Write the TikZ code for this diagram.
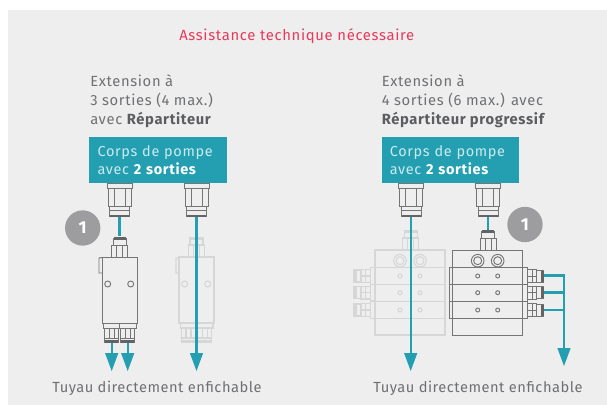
\documentclass[tikz,border=0pt]{standalone}
\usepackage{fontspec}
\setmainfont[LetterSpace=4.5]{Fira Sans}
\usetikzlibrary{arrows.meta}
\definecolor{panel}{HTML}{EEEEEE}
\definecolor{teal1}{HTML}{249FB2}
\definecolor{lighttxt}{HTML}{C9EBEF}
\definecolor{txt}{HTML}{6F7073}
\definecolor{txtb}{HTML}{5C5D60}
\definecolor{red1}{HTML}{E8395B}
\definecolor{badgec}{HTML}{9D9DA0}
\definecolor{partc}{HTML}{757577}
\definecolor{ghostc}{HTML}{D6D6D6}
\tikzset{
  x=0.75pt,y=-0.75pt,
  label text/.style={text=txt,font=\fontsize{11.05pt}{14.25pt}\selectfont,anchor=base west,inner sep=0pt,align=left},
  foot text/.style={text=txt,font=\fontsize{11pt}{14.25pt}\selectfont,anchor=base west,inner sep=0pt},
  title text/.style={text=red1,font=\fontsize{11.12pt}{14pt}\selectfont,anchor=base west,inner sep=0pt},
  pump box/.style={fill=teal1,text=lighttxt,font=\fontsize{10.85pt}{13.8pt}\selectfont,anchor=north west,minimum width=103pt,minimum height=34.5pt,text width=90.5pt,inner ysep=0pt,inner xsep=6.25pt,align=left},
  badge/.style={circle,fill=badgec,text=white,font=\bfseries\fontsize{13pt}{14pt}\selectfont,minimum size=26.5pt,inner sep=0pt},
  pipe/.style={draw=teal1,line width=1.6pt},
  pipe tip/.style={pipe,-{Triangle[length=13.5pt,width=10pt,line width=0pt]}},
  part/.style={draw=partc,line width=0.7pt,fill=none},
  ghost/.style={draw=ghostc,line width=0.8pt,fill=none},
  part solid/.style={fill=partc!85!black,draw=none},
  ghost solid/.style={fill=ghostc,draw=none},
}
% pump fitting hanging from a box bottom: #1 centre x
\newcommand{\pumpfit}[1]{%
  \begin{scope}[shift={(#1,0)}]
    \draw[part] (-12.5,183.5) rectangle (12.5,188);
    \draw[part] (-11.5,188) rectangle (11.5,206);
    \draw[part] (-5.5,188) -- (-5.5,206) (5.5,188) -- (5.5,206);
    \draw[part] (-10,206) rectangle (10,216);
    \draw[part] (-10,210) -- (10,210);
    \fill[part solid] (-9.5,214.5) rectangle (9.5,216.5);
  \end{scope}}
% top inlet: #1 centre x, #2 top y, #3 look
\newcommand{\inlet}[3]{%
  \begin{scope}[shift={(#1,#2)}]
    \draw[#3] (-8,8) rectangle (8,20);
    \draw[#3] (-6.5,1) rectangle (6.5,8);
    \draw[#3] (-3,8) -- (-3,20) (3,8) -- (3,20);
    \fill[#3 solid] (-6,0) rectangle (6,3);
  \end{scope}}
% splitter body: #1 x shift, #2 look
\newcommand{\splitter}[2]{%
  \begin{scope}[shift={(#1,0)}]
    \draw[#2] (102,257) rectangle (137,323);
    \draw[#2] (102,257.5) -- (99,258) -- (99,273) -- (102,273);
    \draw[#2] (107.7,284) circle (3) (130.7,284) circle (3);
    \foreach \c in {111.5,127.7}{
      \draw[#2] (\c-8.3,323) rectangle (\c+8.3,328);
      \draw[#2] (\c-7,328) rectangle (\c+7,342);
      \draw[#2] (\c-2.5,328) -- (\c-2.5,338) (\c+2.5,328) -- (\c+2.5,338) (\c-7,338) -- (\c+7,338);
      \fill[#2 solid] (\c-6.5,340) rectangle (\c+6.5,343);
    }
  \end{scope}}
% progressive block: #1 left x, #2 look
\newcommand{\blockbody}[2]{%
  \begin{scope}[shift={(#1,0)}]
    \draw[#2] (0,250) rectangle (70,335);
    \foreach \y in {267.7,284.3,301.7,318.3}{\draw[#2] (0,\y) -- (70,\y);}
    \foreach \c in {25,45}{
      \draw[#2] (\c,260.7) circle (6.3) (\c,260.7) circle (4);
      \foreach \y in {276,292.7,310}{\draw[#2] (\c,\y) circle (2);}
    }
  \end{scope}}
% side fitting: #1 x of block edge, #2 y centre, #3 direction, #4 look
\newcommand{\sidefit}[4]{%
  \begin{scope}[shift={(#1,#2)},xscale=#3]
    \draw[#4] (0,-8.3) rectangle (4.7,8.3);
    \draw[#4] (4.7,-6.3) rectangle (14,6.3);
    \draw[#4] (14,-6) rectangle (21,6);
    \draw[#4] (4.7,0) -- (14,0) (9.5,-6.3) -- (9.5,6.3);
    \fill[#4 solid] (18.5,-5.5) rectangle (21.5,5.5);
  \end{scope}}
\begin{document}
\begin{tikzpicture}
\useasboundingbox (0,0) rectangle (607,405);
\fill[white] (0,0) rectangle (607,405);
\fill[panel] (7.5,10) rectangle (607,405);

\node[title text] (title) at (179,40.5) {Assistance technique nécessaire};

\node[label text] (extL) at (90,124) {Extension à\\3 sorties (4 max.)\\avec \textcolor{txtb}{\bfseries Répartiteur}};
\node[label text] (extR) at (381.5,124) {Extension à\\4 sorties (6 max.) avec\\\textcolor{txtb}{\bfseries Répartiteur progressif}};

% ghost parts
\inlet{196.5}{237}{ghost}
\splitter{77}{ghost}
\inlet{410.7}{230}{ghost}
\blockbody{375}{ghost}
\foreach \y in {276,292.7,310}{\sidefit{375}{\y}{-1}{ghost}}

% real parts
\pumpfit{119.5}\pumpfit{196.5}\pumpfit{411}\pumpfit{488.3}
\inlet{119.5}{237}{part}
\splitter{0}{part}
\inlet{488}{230}{part}
\blockbody{452.7}{part}
\foreach \y in {276,292.7,310}{
  \sidefit{522.7}{\y}{1}{part}
  \draw[part] (452.7,\y-8.3) rectangle (449,\y+8.3);
}

\node[pump box] (boxL) at (89,137) {Corps de pompe\\avec \textcolor{white}{\bfseries 2 sorties}};
\node[pump box] (boxR) at (381.3,137) {Corps de pompe\\avec \textcolor{white}{\bfseries 2 sorties}};

\node[badge] (badgeL) at (82.7,228) {1};
\node[badge] (badgeR) at (525,224.5) {1};

% pipes
\coordinate (a1) at (119.5,217); \coordinate (a2) at (119.5,236);
\draw[pipe] (a1) -- (a2);
\coordinate (b1) at (111.7,343); \coordinate (b2) at (111.7,371);
\coordinate (c1) at (127.7,343); \coordinate (c2) at (127.7,371);
\draw[pipe tip] (b1) -- (b2);
\draw[pipe tip] (c1) -- (c2);
\coordinate (d1) at (196.5,217); \coordinate (d2) at (196.5,371);
\draw[pipe tip] (d1) -- (d2);
\coordinate (e1) at (410.7,217); \coordinate (e2) at (410.7,371);
\draw[pipe tip] (e1) -- (e2);
\coordinate (f1) at (487.7,217); \coordinate (f2) at (487.7,230);
\draw[pipe] (f1) -- (f2);
\coordinate (g1) at (544,275.5); \coordinate (g2) at (564,275.5); \coordinate (g3) at (564,366);
\coordinate (h1) at (544,292.5); \coordinate (h2) at (564,292.5);
\coordinate (i1) at (544,309.7); \coordinate (i2) at (564,309.7);
\draw[pipe tip] (g1) -- (g2) -- (g3);
\draw[pipe] (h1) -- (h2);
\draw[pipe] (i1) -- (i2);

\node[foot text] (lblL) at (52,392) {\addfontfeature{LetterSpace=3.5}Tuyau directement enfichable};
\node[foot text] (lblR) at (373,392) {\addfontfeature{LetterSpace=3.5}Tuyau directement enfichable};
\end{tikzpicture}
\end{document}
